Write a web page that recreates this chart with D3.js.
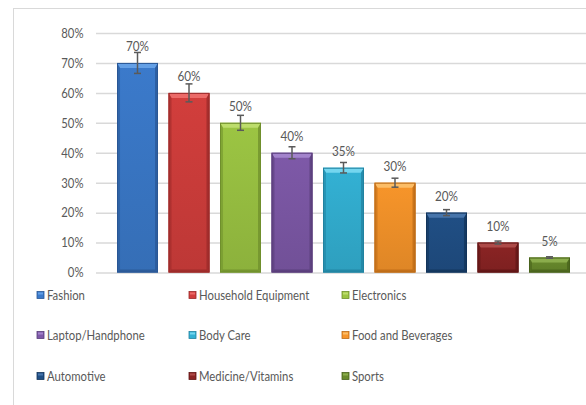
<!DOCTYPE html>
<html>
<head>
<meta charset="utf-8">
<script src="https://cdn.jsdelivr.net/npm/d3@7/dist/d3.min.js"></script>
<style>
  html, body { margin: 0; padding: 0; background: #fff; }
  svg { display: block; }
  text { font-family: Lato, "Liberation Sans", sans-serif; fill: #595959; }
</style>
</head>
<body>
<svg id="chart" width="586" height="405"></svg>
<script>
// Share of respondents by product category
const categories = ["Fashion", "Household Equipment", "Electronics", "Laptop/Handphone",
  "Body Care", "Food and Beverages", "Automotive", "Medicine/Vitamins", "Sports"];
const values = [70, 60, 50, 40, 35, 30, 20, 10, 5];
const errors = [3.5, 3, 2.5, 2, 1.75, 1.5, 1, 0.5, 0.25];
const yTicks = [0, 10, 20, 30, 40, 50, 60, 70, 80];

// Bar palette: base, highlight, shadow
const baseColors = ["#3b7acb", "#d23e3c", "#9cc543", "#7e59a8", "#33b1d4", "#f7952a", "#204f85", "#8b2424", "#698b2d"];
const lightColors = ["#64a0e6", "#ec6a68", "#bddd6c", "#a384cc", "#74d6ef", "#fcbd66", "#4775ab", "#ad4a48", "#8bad4c"];
const darkColors = ["#2a5795", "#9a2a29", "#6f8f2c", "#583d79", "#2182a0", "#bb6a17", "#13345a", "#5f1515", "#48621c"];

// Horizontal squeeze so the text reads as a narrow face
const SQ = 0.84;

const svg = d3.select("#chart");

// Outer chart frame
svg.append("rect")
  .attr("x", 13.5).attr("y", 8.5)
  .attr("width", 600).attr("height", 420)
  .attr("fill", "none").attr("stroke", "#d9d9d9").attr("stroke-width", 1);

const x = d3.scaleBand()
  .domain(categories)
  .range([96, 591])
  .paddingInner(0.204)
  .paddingOuter(0.408);

const y = d3.scaleLinear().domain([0, 80]).range([272.5, 33]);

// Gridlines and tick labels
const yAxis = d3.axisLeft(y)
  .tickValues(yTicks)
  .tickSize(-(586 - 96))
  .tickPadding(12)
  .tickFormat(d => d + "%");

const gAxis = svg.append("g")
  .attr("transform", "translate(96,0)")
  .call(yAxis);
gAxis.select(".domain").remove();
gAxis.selectAll(".tick line").attr("stroke", "#d9d9d9").attr("stroke-width", 1.5);
gAxis.selectAll(".tick text")
  .attr("x", -12.5 / SQ)
  .attr("transform", `scale(${SQ},1)`)
  .attr("font-size", 13.5)
  .style("fill", "#595959");

// Bars with a bevelled look
const bw = x.bandwidth();
const bars = svg.append("g").selectAll("g.bar")
  .data(categories.map((c, i) => ({ c, v: values[i], e: errors[i], i })))
  .join("g").attr("class", "bar");

const defs = svg.append("defs");
bars.each(function (d) {
  const g = d3.select(this);
  const x0 = x(d.c), y0 = y(d.v), h = y(0) - y(d.v), w = bw;
  const b = Math.min(5, h / 3), s = 3;
  const grad = defs.append("linearGradient")
    .attr("id", "grad" + d.i).attr("x1", 0).attr("y1", 0).attr("x2", 0).attr("y2", 1);
  grad.append("stop").attr("offset", 0).attr("stop-color", baseColors[d.i]);
  grad.append("stop").attr("offset", 1).attr("stop-color", d3.color(baseColors[d.i]).darker(0.3));
  g.append("rect")
    .attr("x", x0).attr("y", y0).attr("width", w).attr("height", h)
    .attr("fill", `url(#grad${d.i})`);
  // top highlight
  g.append("polygon")
    .attr("points", [[x0, y0], [x0 + w, y0], [x0 + w - s, y0 + b], [x0 + s, y0 + b]].join(" "))
    .attr("fill", lightColors[d.i]);
  // side shading
  g.append("polygon")
    .attr("points", [[x0, y0], [x0 + s, y0 + b], [x0 + s, y0 + h - s], [x0, y0 + h]].join(" "))
    .attr("fill", darkColors[d.i]).attr("opacity", 0.55);
  g.append("polygon")
    .attr("points", [[x0 + w, y0], [x0 + w - s, y0 + b], [x0 + w - s, y0 + h - s], [x0 + w, y0 + h]].join(" "))
    .attr("fill", darkColors[d.i]).attr("opacity", 0.75);
  // bottom shading
  g.append("polygon")
    .attr("points", [[x0, y0 + h], [x0 + s, y0 + h - s], [x0 + w - s, y0 + h - s], [x0 + w, y0 + h]].join(" "))
    .attr("fill", darkColors[d.i]).attr("opacity", 0.8);
  g.append("rect")
    .attr("x", x0 + 0.5).attr("y", y0 + 0.5).attr("width", w - 1).attr("height", h - 1)
    .attr("fill", "none").attr("stroke", darkColors[d.i]).attr("stroke-width", 1);
});

// Error bars
const eb = svg.append("g").attr("stroke", "#5a5a5a").attr("stroke-width", 1.5).attr("fill", "none");
categories.forEach((c, i) => {
  const cx = x(c) + bw / 2;
  const yt = y(values[i] + errors[i]), yb = y(values[i] - errors[i]);
  eb.append("line").attr("x1", cx).attr("x2", cx).attr("y1", yt).attr("y2", yb);
  eb.append("line").attr("x1", cx - 3.5).attr("x2", cx + 3.5).attr("y1", yt).attr("y2", yt);
  eb.append("line").attr("x1", cx - 3.5).attr("x2", cx + 3.5).attr("y1", yb).attr("y2", yb);
});

// Value labels
svg.append("g").selectAll("text")
  .data(categories)
  .join("text")
  .attr("transform", (d, i) => `translate(${x(d) + bw / 2},${y(values[i]) - 12}) scale(${SQ},1)`)
  .attr("text-anchor", "middle")
  .attr("font-size", 14)
  .text((d, i) => values[i] + "%");

// Legend: three columns, three rows
const colX = [37, 189, 342];
const rowY = [300, 340, 381];
const legend = svg.append("g").selectAll("g")
  .data(categories)
  .join("g")
  .attr("transform", (d, i) => `translate(${colX[i % 3]},${rowY[Math.floor(i / 3)]})`);
legend.append("rect")
  .attr("x", 0).attr("y", -8.5).attr("width", 7).attr("height", 7)
  .attr("fill", (d, i) => baseColors[i])
  .attr("stroke", (d, i) => darkColors[i]).attr("stroke-width", 0.8);
legend.append("rect")
  .attr("x", 1).attr("y", -7.5).attr("width", 5).attr("height", 2)
  .attr("fill", (d, i) => lightColors[i]);
legend.append("text")
  .attr("transform", `translate(10,0) scale(${SQ},1)`)
  .attr("font-size", 13.5)
  .text(d => d);
</script>
</body>
</html>
